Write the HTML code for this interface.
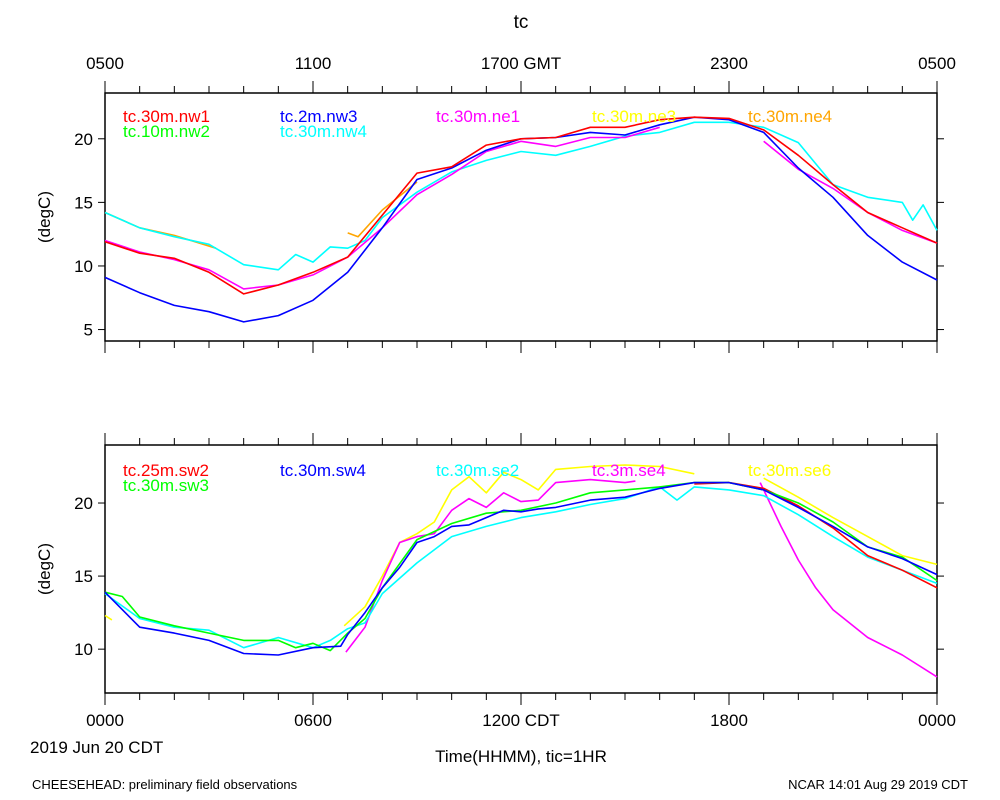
<!DOCTYPE html>
<html><head><meta charset="utf-8"><style>
body{margin:0;background:#fff;}
svg{display:block;font-family:"Liberation Sans",sans-serif;}
</style></head><body>
<svg id="c" width="1000" height="800" xmlns="http://www.w3.org/2000/svg">
<text x="521" y="28" font-size="19" text-anchor="middle">tc</text>
<text x="30" y="753" font-size="17">2019 Jun 20 CDT</text>
<text x="521" y="762" font-size="17" text-anchor="middle">Time(HHMM), tic=1HR</text>
<text x="32" y="789" font-size="13">CHEESEHEAD: preliminary field observations</text>
<text x="968" y="789" font-size="13" text-anchor="end">NCAR 14:01 Aug 29 2019 CDT</text>
</svg>
<script>
// ---- data ----
const topTickLabels=["0500","1100","1700 GMT","2300","0500"];
const bottomTickLabels=["0000","0600","1200 CDT","1800","0000"];
const topYTicks=[5,10,15,20];
const bottomYTicks=[10,15,20];
const topLegend=["tc.30m.nw1","tc.10m.nw2","tc.2m.nw3","tc.30m.nw4","tc.30m.ne1","tc.30m.ne3","tc.30m.ne4"];
const bottomLegend=["tc.25m.sw2","tc.30m.sw3","tc.30m.sw4","tc.30m.se2","tc.3m.se4","tc.30m.se6"];
const hrs=[0,1,2,3,4,5,6,7,8,9,10,11,12,13,14,15,16,17,18,19,20,21,22,23,24];
const nw1=[11.9,11.0,10.6,9.5,7.8,8.5,9.5,10.7,14.0,17.3,17.8,19.5,20.0,20.1,20.9,20.9,21.5,21.7,21.6,20.7,18.7,16.4,14.2,13.0,11.8];
const nw3=[9.1,7.9,6.9,6.4,5.6,6.1,7.3,9.5,13.0,16.8,17.7,19.1,20.0,20.1,20.5,20.3,21.1,21.7,21.5,20.5,17.7,15.4,12.4,10.3,8.9];
const ne1=[12.0,11.1,10.5,9.7,8.2,8.5,9.3,10.7,13.0,15.6,17.2,19.0,19.8,19.4,20.1,20.1,20.9,null,null,19.8,17.6,16.1,14.2,12.8,11.8];
const nw4Hours=[0,1,2,3,4,5,5.5,6,6.5,7,7.5,8,9,10,11,12,13,14,15,16,17,18,19,20,21,22,23,23.3,23.6,24];
const nw4=[14.2,13.0,12.3,11.7,10.1,9.7,10.9,10.3,11.5,11.4,12.0,13.8,15.8,17.4,18.3,19.0,18.7,19.4,20.2,20.5,21.3,21.3,20.9,19.7,16.4,15.4,15.0,13.6,14.8,12.8];
const ne4Hours=[0,1,2,3.2,null,7,7.3,8,9];
const ne4=[14.2,13.0,12.4,11.4,null,12.6,12.3,14.4,16.6];
const sw4Hours=[0,1,2,3,4,5,6,6.8,7,7.5,8,8.5,9,9.5,10,10.5,11,11.5,12,12.5,13,14,15,16,17,18,19,20,21,22,23,24];
const sw4=[13.9,11.5,11.1,10.6,9.7,9.6,10.1,10.2,11.0,12.5,14.2,15.6,17.3,17.7,18.4,18.5,19.0,19.5,19.4,19.6,19.7,20.2,20.4,21.0,21.4,21.4,20.9,19.7,18.4,17.0,16.2,15.1];
const sw3Hours=[0,0.5,1,2,3,4,5,5.5,6,6.5,7,7.5,8,9,10,11,12,13,14,15,16,17,18,19,20,21,22,23,24];
const sw3=[13.9,13.6,12.2,11.6,11.1,10.6,10.6,10.1,10.4,9.9,11.1,12.1,14.2,17.5,18.6,19.3,19.5,20.0,20.7,20.9,21.1,21.4,21.4,20.9,20.0,18.7,17.0,16.3,14.7];
const sw2Hours=[17,18,19,20,21,22,23,24];
const sw2=[21.3,21.4,21.0,19.8,18.3,16.4,15.4,14.2];
const se2Hours=[0,1,2,3,4,5,6,6.5,7,7.5,8,9,10,11,12,13,14,15,16,16.5,17,18,19,20,21,22,23,24];
const se2=[13.8,12.1,11.5,11.3,10.1,10.8,10.1,10.6,11.4,11.8,13.8,15.9,17.7,18.4,19.0,19.4,19.9,20.3,21.1,20.2,21.1,20.9,20.5,19.2,17.7,16.3,15.4,14.5];
const se6Hours=[0,0.2,null,6.9,7.5,8,8.5,9,9.5,10,10.5,11,11.5,12,12.5,13,14,15,16,17,null,19,20,21,22,23,24];
const se6=[12.3,12.0,null,11.6,12.9,15.0,17.3,17.9,18.7,20.9,21.8,20.7,22.1,21.6,20.9,22.3,22.5,22.6,22.5,22.0,null,21.7,20.4,19.0,17.7,16.4,15.8];
const se4Hours=[6.95,7.5,8,8.5,9,9.5,10,10.5,11,11.5,12,12.5,13,14,15,15.3,null,18.9,19.5,20,20.5,21,22,23,24];
const se4=[9.8,11.5,14.7,17.3,17.7,17.9,19.5,20.3,19.7,20.7,20.1,20.2,21.4,21.6,21.4,21.5,null,21.4,18.4,16.1,14.2,12.7,10.8,9.6,8.1];

const svg=document.getElementById('c');
const NS='http://www.w3.org/2000/svg';
function mk(t,a){const e=document.createElementNS(NS,t);for(const k in a)e.setAttribute(k,a[k]);svg.appendChild(e);return e;}
const X0=105,X1=937;
const xs=h=>X0+(X1-X0)*h/24;
const panels=[
 {top:93,bot:341,ymin:4.1,ymax:23.6,name:'top'},
 {top:445,bot:693,ymin:7.0,ymax:23.97,name:'bottom'}];
panels.forEach(p=>{p.ys=v=>p.bot-(v-p.ymin)/(p.ymax-p.ymin)*(p.bot-p.top);});

function frame(p,yt){
  const r=mk('rect',{x:X0,y:p.top,width:X1-X0,height:p.bot-p.top,fill:'none',stroke:'#000','stroke-width':1.5});
  
  
  for(let h=0;h<=24;h++){
    const L=h%6==0?12:7,x=xs(h);
    const a=mk('line',{x1:x,x2:x,y1:p.top,y2:p.top-L,stroke:'#000','stroke-width':1});
    
    
    const b=mk('line',{x1:x,x2:x,y1:p.bot,y2:p.bot+L,stroke:'#000','stroke-width':1});
    
    
  }
  yt.forEach(v=>{
    const y=p.ys(v);
    const a=mk('line',{x1:X0-7,x2:X0,y1:y,y2:y,stroke:'#000'});
    
    
    const b=mk('line',{x1:X1,x2:X1+7,y1:y,y2:y,stroke:'#000'});
    
    
    const t=mk('text',{x:X0-12,y:y+6,'font-size':17,'text-anchor':'end'});
    t.textContent=v;
    
    
  });
  const yl=mk('text',{x:0,y:0,'font-size':17,'text-anchor':'middle',transform:`translate(50,${(p.top+p.bot)/2}) rotate(-90)`});
  yl.textContent='(degC)';
  
  
}
frame(panels[0],topYTicks);frame(panels[1],bottomYTicks);
topTickLabels.forEach((s,i)=>{
  const t=mk('text',{x:xs(i*6),y:69,'font-size':17,'text-anchor':'middle'});t.textContent=s;
  
  
});
bottomTickLabels.forEach((s,i)=>{
  const t=mk('text',{x:xs(i*6),y:726,'font-size':17,'text-anchor':'middle'});t.textContent=s;
  
  
});
function line(p,H,V,color,name){
  let d='',pen=false;
  for(let i=0;i<V.length;i++){
    if(V[i]==null||H[i]==null){pen=false;continue;}
    d+=(pen?'L':'M')+xs(H[i]).toFixed(1)+' '+p.ys(V[i]).toFixed(1);pen=true;
  }
  const e=mk('path',{d:d,fill:'none',stroke:color,'stroke-width':1.6,'stroke-linejoin':'round'});
  
  
}
const P=panels[0],Q=panels[1];
line(P,ne4Hours,ne4,'#ffa500','series-ne4');
line(P,nw4Hours,nw4,'#00ffff','series-nw4');
line(P,hrs,ne1,'#ff00ff','series-ne1');
line(P,hrs,nw3,'#0000ff','series-nw3');
line(P,hrs,nw1,'#ff0000','series-nw1');
line(Q,se6Hours,se6,'#ffff00','series-se6');
line(Q,se4Hours,se4,'#ff00ff','series-se4');
line(Q,se2Hours,se2,'#00ffff','series-se2');
line(Q,sw2Hours,sw2,'#ff0000','series-sw2');
line(Q,sw3Hours,sw3,'#00ff00','series-sw3');
line(Q,sw4Hours,sw4,'#0000ff','series-sw4');
function legend(items,colors,pos,y0){
  items.forEach((s,i)=>{
    const [xx,row]=pos[i];
    const t=mk('text',{x:xx,y:y0+row*15,'font-size':17,fill:colors[i]});t.textContent=s;
    
    
  });
}
legend(topLegend,['#ff0000','#00ff00','#0000ff','#00ffff','#ff00ff','#ffff00','#ffa500'],
 [[123,0],[123,1],[280,0],[280,1],[436,0],[592,0],[748,0]],122);
legend(bottomLegend,['#ff0000','#00ff00','#0000ff','#00ffff','#ff00ff','#ffff00'],
 [[123,0],[123,1],[280,0],[436,0],[592,0],[748,0]],476);
</script>
</body></html>
